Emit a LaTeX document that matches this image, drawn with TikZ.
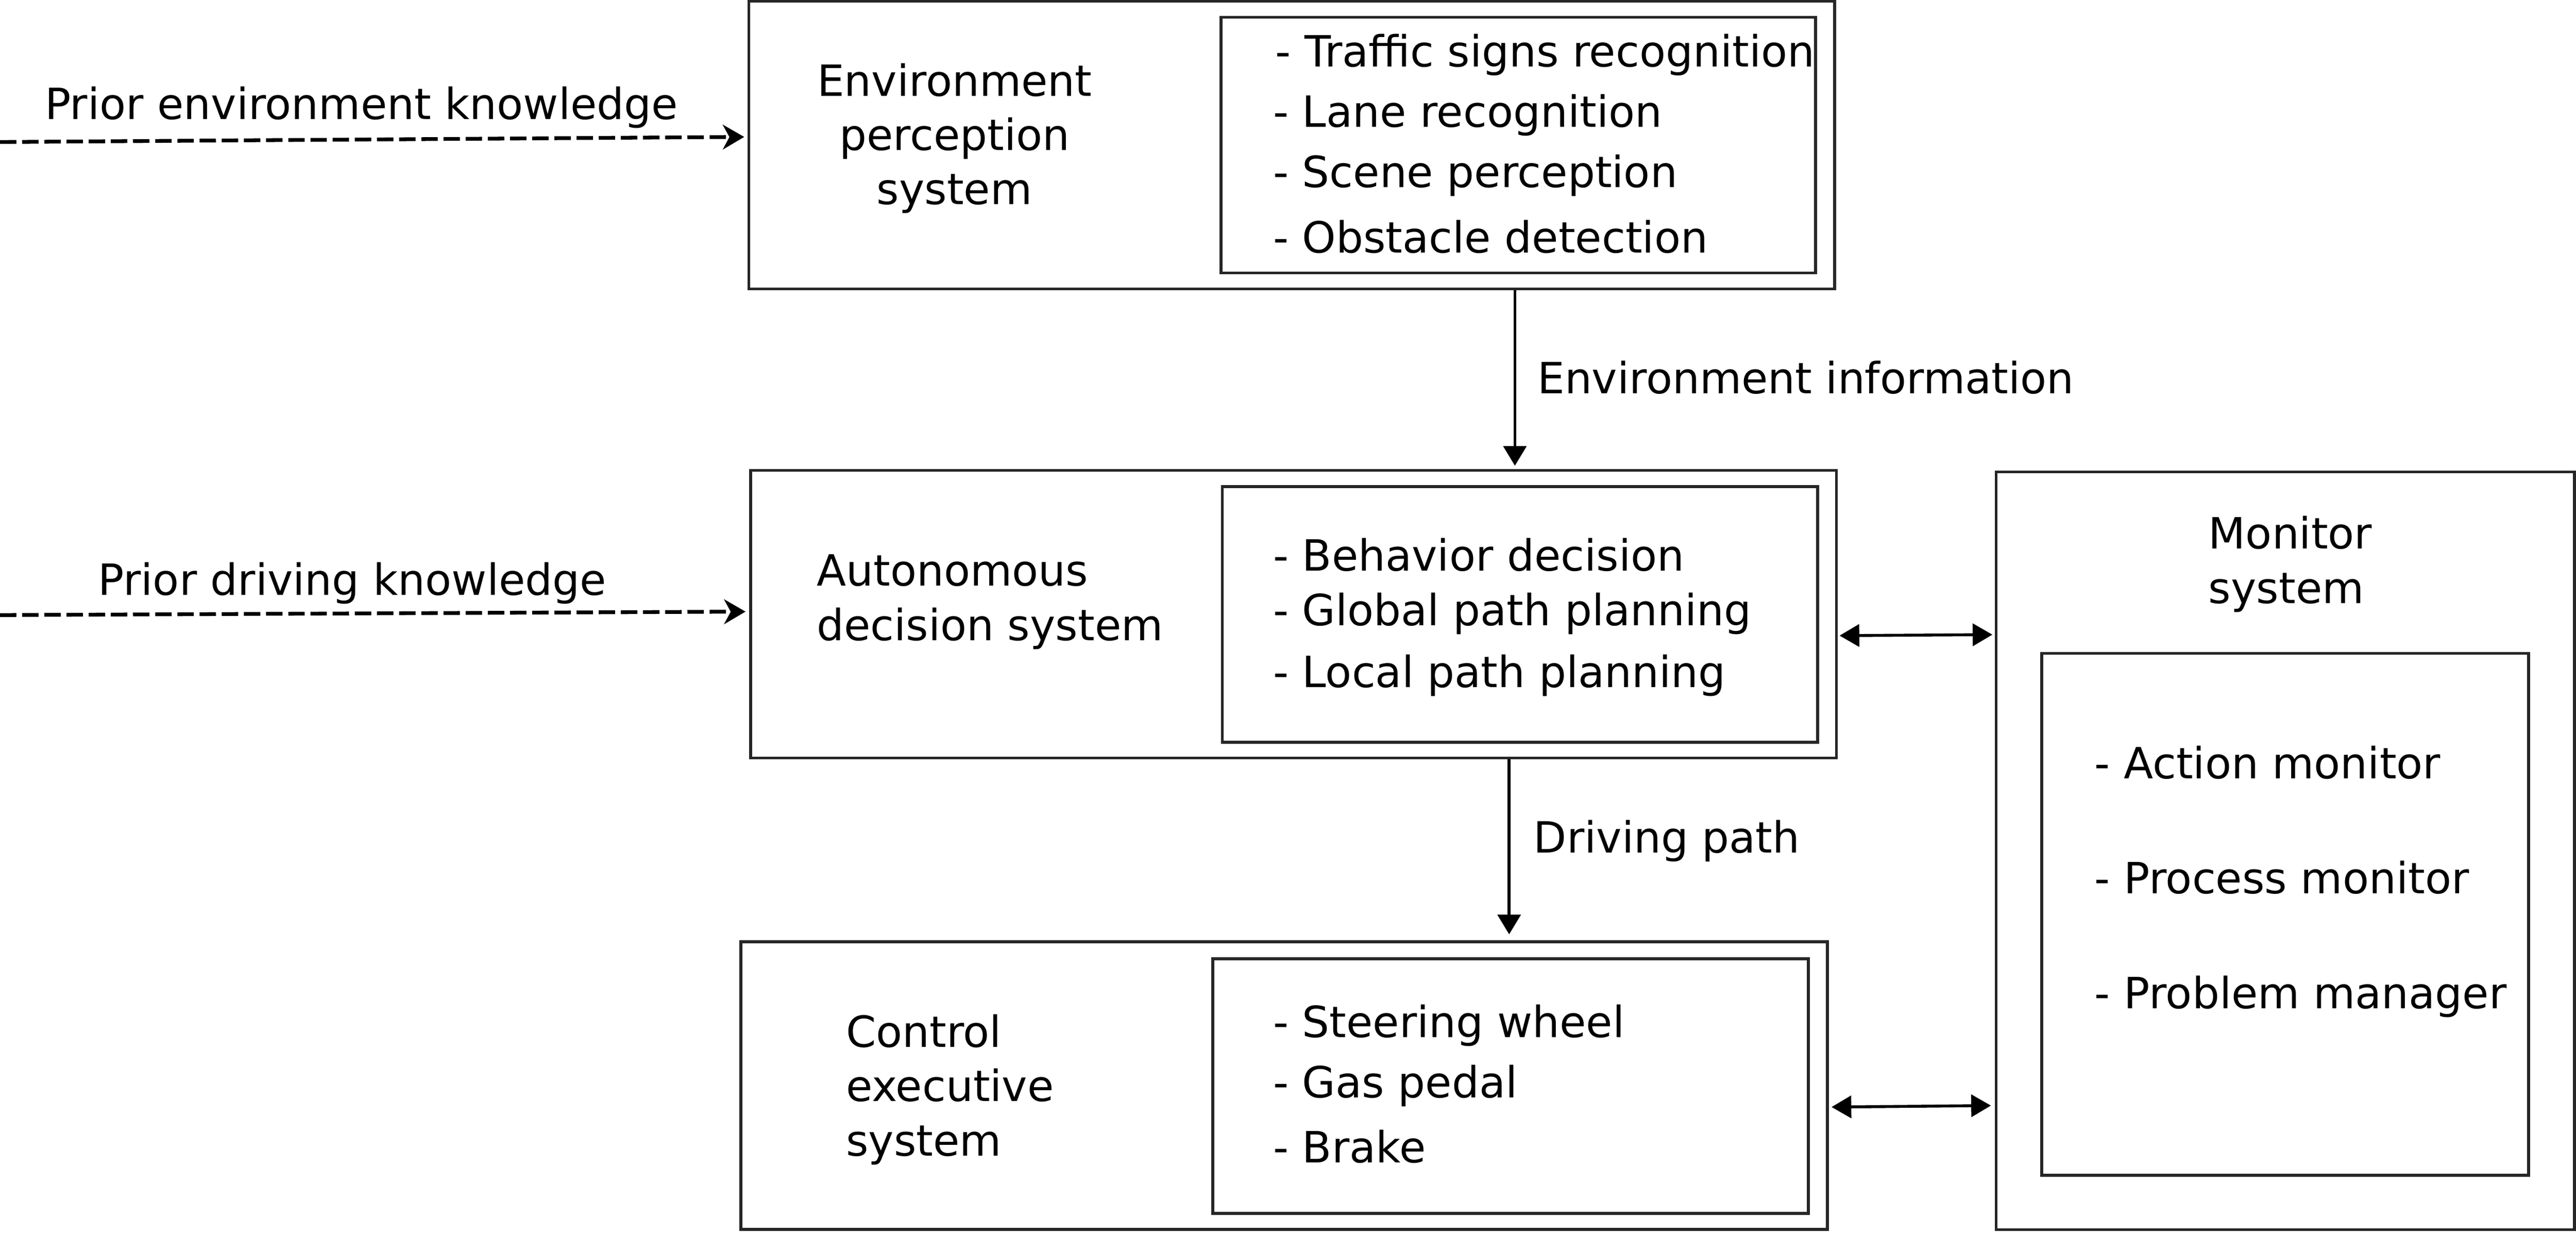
\documentclass[tikz,border=0pt]{standalone}
\usepackage{fontspec}
\setmainfont{DejaVu Sans}
\usetikzlibrary{calc,arrows.meta}

\tikzset{
    box/.style={draw=black!85, line width=1pt, inner sep=0pt},
    lbl/.style={inner sep=0pt, anchor=base west, align=left, font=\fontsize{14.9}{18.8}\selectfont},
    items/.style={lbl, font=\fontsize{14.9}{20.8}\selectfont},
    arr/.style={line width=1pt, -{Triangle[length=0.24cm,width=0.28cm]}},
    dbl/.style={line width=1pt, {Triangle[length=0.24cm,width=0.27cm]}-{Triangle[length=0.24cm,width=0.27cm]}},
    prior/.style={line width=1.3pt, dash pattern=on 0.2cm off 0.07cm, -{Stealth[length=0.26cm,width=0.3cm,inset=0.08cm]}}
}

\begin{document}
\begin{tikzpicture}[x=0.02cm,y=-0.02cm]
        \useasboundingbox (0,0) rectangle (1568,750);
        \node (env) at (786.3,88.3) [box, minimum width=13.22cm, minimum height=3.5cm] {};
        \node (envin) at (924.1,88.3) [box, minimum width=7.24cm, minimum height=3.11cm] {};
        \node (dec) at (787.4,373.7) [box, minimum width=13.22cm, minimum height=3.5cm] {};
        \node (decin) at (925.2,373.8) [box, minimum width=7.25cm, minimum height=3.11cm] {};
        \node (ctl) at (781.6,660.5) [box, minimum width=13.23cm, minimum height=3.5cm] {};
        \node (ctlin) at (919.5,660.7) [box, minimum width=7.25cm, minimum height=3.1cm] {};
        \node (mon) at (1391,517.6) [box, minimum width=7.04cm, minimum height=9.22cm] {};
        \node (monin) at (1391,556.2) [box, minimum width=5.93cm, minimum height=6.35cm] {};

        \node (envtitle) at (581,124.4) [lbl, anchor=base, align=center] {Environment\\perception\\system};
        \node (envlist) at (774.6,153.9) [items] {\hspace{0.8pt}- Traffic signs recognition\\- Lane recognition\\- Scene perception\\[2pt]- Obstacle detection};
        \node (dectitle) at (496.8,389.5) [lbl] {Autonomous\\decision system};
        \node (declist) at (774.6,418.1) [lbl, font=\fontsize{14.9}{18.95}\selectfont] {- Behavior decision\\- Global path planning\\[2.45pt]- Local path planning};
        \node (ctltitle) at (514.6,703.1) [lbl] {Control\\executive\\system};
        \node (ctllist) at (774.6,707.3) [items] {- Steering wheel\\- Gas pedal\\[1.7pt]- Brake};
        \node (montitle) at (1344,367) [lbl] {Monitor\\system};
        \node (monlist) at (1274.7,613.4) [lbl, font=\fontsize{14.9}{39.8}\selectfont] {- Action monitor\\- Process monitor\\- Problem manager};

        \coordinate (envsrc) at (0,86.4);
        \coordinate (drvsrc) at (0,374.2);
        \draw [prior] (envsrc) -- ($(env.west)+(-2,-5)$);
        \draw [prior] (drvsrc) -- ($(dec.west)+(-2.3,-1.6)$);
        \node (envknow) at (220,72.6) [lbl, anchor=base] {Prior environment knowledge};
        \node (drvknow) at (214.4,361.9) [lbl, anchor=base] {Prior driving knowledge};

        \draw [arr] ($(env.south)+(135.8,0)$) -- ($(dec.north)+(134.7,-2)$);
        \node (envinfo) at (935.5,239.5) [lbl] {Environment information};
        \draw [arr] ($(dec.south)+(131.2,0)$) -- ($(ctl.north)+(137,-3.7)$);
        \node (drvpath) at (933.2,518.8) [lbl] {Driving path};

        \draw [dbl] ($(dec.east)+(1,13)$) -- ($(mon.west)+(-1.4,-131.5)$);
        \draw [dbl] ($(ctl.east)+(1.7,13)$) -- ($(mon.west)+(-2.3,155)$);
    \end{tikzpicture}
\end{document}
